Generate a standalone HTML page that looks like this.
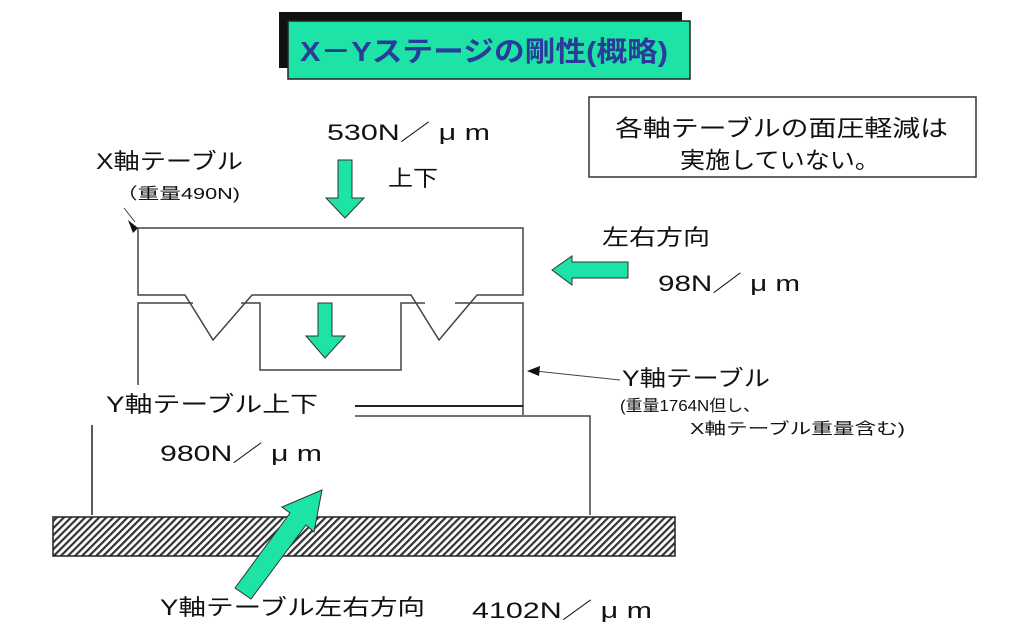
<!DOCTYPE html>
<html><head><meta charset="utf-8"><style>
html,body{margin:0;padding:0;background:#fff;width:1024px;height:640px;overflow:hidden}
text{font-family:"Liberation Sans","Noto Sans CJK JP",sans-serif;fill:#111}
</style></head><body>
<svg width="1024" height="640" viewBox="0 0 1024 640" xmlns="http://www.w3.org/2000/svg">
<defs>
<pattern id="h" width="5" height="5" patternUnits="userSpaceOnUse" patternTransform="rotate(45)">
<rect width="5" height="5" fill="#fff"/><rect width="2.2" height="5" fill="#333"/></pattern>
</defs>
<rect x="279" y="12" width="403" height="56" fill="#111"/>
<rect x="288" y="21" width="402" height="58" fill="#1ee3a6" stroke="#222" stroke-width="1.5"/>
<text x="300" y="61" font-size="28" font-weight="bold" textLength="368" lengthAdjust="spacingAndGlyphs" style="fill:#2a3c9a">X－Yステージの剛性(概略)</text>
<rect x="589" y="97" width="387" height="80" fill="#fff" stroke="#333" stroke-width="1.5"/>
<text x="615" y="136" font-size="23" textLength="333" lengthAdjust="spacingAndGlyphs">各軸テーブルの面圧軽減は</text>
<text x="680" y="168" font-size="23" textLength="200" lengthAdjust="spacingAndGlyphs">実施していない。</text>
<g fill="none" stroke="#444" stroke-width="1.5">
<path d="M138 295 V228 H523 V295 H477 L439 340 L411 295 H252 L213 340 L185 295 Z"/>
<path d="M138 385 V303 H193 M241 303 H260 V370 H401 V303 H425 M455 303 H523 V415"/>
<path d="M355 406 H523" stroke="#222" stroke-width="2"/>
<path d="M355 416 H590 V515"/>
<path d="M92 425 V515" stroke="#222"/>
<path d="M124 208 L135 222" stroke-width="1"/>
<path d="M620 380 L535 371" stroke-width="1"/>
</g>
<path d="M138 228 L128 220 L133 233 Z" fill="#111"/>
<path d="M527 371 L540 366 L539 376 Z" fill="#111"/>
<rect x="53" y="517" width="622" height="39" fill="url(#h)" stroke="#222" stroke-width="1.5"/>
<g fill="#1ee3a6" stroke="#333" stroke-width="1">
<path d="M338 160 H352 V198 H364 L345 218 L326 198 H338 Z"/>
<path d="M318 303 H332 V336 H345 L325 358 L306 336 H318 Z"/>
<path d="M628 262 V278 H572 V285 L552 270 L572 256 V262 Z"/>
<path d="M235 588 L290 513 L282 507 L322 490 L314 532 L306 525 L251 599 Z"/>
</g>
<g font-size="22">
<text x="327" y="140" textLength="163" lengthAdjust="spacingAndGlyphs">530N／ μ m</text>
<text x="658" y="291" textLength="142" lengthAdjust="spacingAndGlyphs">98N／ μ m</text>
<text x="160" y="461" textLength="162" lengthAdjust="spacingAndGlyphs">980N／ μ m</text>
<text x="472" y="618" textLength="180" lengthAdjust="spacingAndGlyphs">4102N／ μ m</text>
</g>
<g font-size="22">
<text x="388" y="186" textLength="50" lengthAdjust="spacingAndGlyphs">上下</text>
<text x="96" y="169" textLength="147" lengthAdjust="spacingAndGlyphs">X軸テーブル</text>
<text x="602" y="245" textLength="108" lengthAdjust="spacingAndGlyphs">左右方向</text>
<text x="622" y="386" textLength="148" lengthAdjust="spacingAndGlyphs">Y軸テーブル</text>
<text x="106" y="412" textLength="212" lengthAdjust="spacingAndGlyphs">Y軸テーブル上下</text>
<text x="160" y="615" textLength="265" lengthAdjust="spacingAndGlyphs">Y軸テーブル左右方向</text>
</g>
<g font-size="16">
<text x="116" y="199" textLength="124" lengthAdjust="spacingAndGlyphs">（重量490N)</text>
<text x="620" y="411" textLength="140" lengthAdjust="spacingAndGlyphs">(重量1764N但し、</text>
<text x="690" y="434" textLength="215" lengthAdjust="spacingAndGlyphs">X軸テーブル重量含む)</text>
</g>
</svg>
</body></html>
